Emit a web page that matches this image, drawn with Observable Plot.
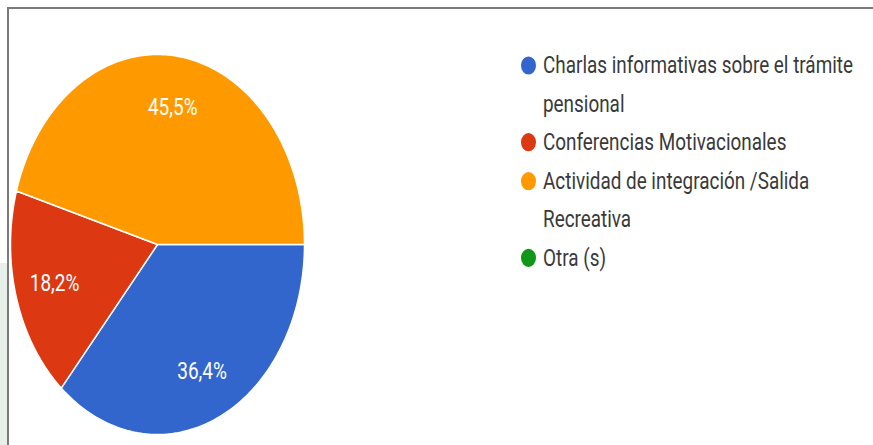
<!DOCTYPE html>
<html>
<head>
<meta charset="utf-8">
<script src="https://cdn.jsdelivr.net/npm/d3@7"></script>
<script src="https://cdn.jsdelivr.net/npm/@observablehq/plot@0.6"></script>
<style>
  html, body { margin: 0; padding: 0; background: #fff; }
  #wrap { position: relative; width: 873px; height: 445px; overflow: hidden; background: #fff; }
  #chart { position: absolute; left: 0; top: 0; }
  .line { position: absolute; background: #7a7a7a; z-index: 3; }
  .strip { position: absolute; background: #e8efe8; z-index: 2; }
  #legend {
    position: absolute; left: 521px; top: 46px; z-index: 4;
    transform: scaleY(1.3); transform-origin: 0 0;
    font-family: Roboto, "Liberation Sans", sans-serif; font-size: 18.9px;
    line-height: 29.6px; color: #3a3a3a;
  }
  .item { display: flex; align-items: flex-start; }
  .dot { flex: none; width: 15px; height: 14px; border-radius: 50%; margin-top: 7.8px; margin-right: 7px; }
  .txt { width: 325px; }
</style>
</head>
<body>
<div id="wrap">
  <div id="chart"></div>
  <div class="strip" style="left:0;top:263px;width:7px;height:182px;"></div>
  <div class="line" style="left:7px;top:7px;width:866px;height:2px;"></div>
  <div class="line" style="left:7px;top:7px;width:2px;height:438px;"></div>
  <div id="legend"></div>
</div>
<script>
// ---- data ----
const categories = [
  "Charlas informativas sobre el trámite pensional",
  "Conferencias Motivacionales",
  "Actividad de integración /Salida Recreativa",
  "Otra (s)"
];
const counts = [4, 2, 5, 0];
const colors = ["#3366cc", "#dc3912", "#ff9900", "#109618"];

// ---- build slices ----
const total = d3.sum(counts);
const rows = categories.map((c, i) => ({ cat: c, value: counts[i], color: colors[i] }));
const arcs = d3.pie().value(d => d.value).sort(null)
  .startAngle(Math.PI / 2).endAngle(Math.PI / 2 + 2 * Math.PI)(rows);

const polyPts = [];
const labels = [];
arcs.forEach(a => {
  if (a.data.value <= 0) return;
  const n = Math.max(2, Math.ceil((a.endAngle - a.startAngle) / (Math.PI / 180)));
  polyPts.push({ cat: a.data.cat, color: a.data.color, x: 0, y: 0 });
  for (let k = 0; k <= n; k++) {
    const t = a.startAngle + (a.endAngle - a.startAngle) * k / n;
    polyPts.push({ cat: a.data.cat, color: a.data.color, x: Math.sin(t), y: Math.cos(t) });
  }
  const mid = (a.startAngle + a.endAngle) / 2;
  labels.push({
    x: 0.73 * Math.sin(mid), y: 0.73 * Math.cos(mid),
    text: (a.data.value / total * 100).toFixed(1).replace(".", ",") + "%"
  });
});

const plot = Plot.plot({
  width: 873, height: 445,
  marginLeft: 10, marginRight: 569, marginTop: 54, marginBottom: 11,
  x: { domain: [-1, 1], axis: null },
  y: { domain: [-1, 1], axis: null },
  color: { type: "identity" },
  style: { background: "transparent" },
  marks: [
    Plot.line(polyPts, { x: "x", y: "y", z: "cat", fill: "color", stroke: "#fff", strokeWidth: 1.5, curve: "linear-closed" }),
    Plot.text(labels, { x: "x", y: "y", text: "text", fill: "#fff", fontSize: 19, fontFamily: "Roboto", textAnchor: "middle", lineAnchor: "middle" })
  ]
});
// vertical stretch of the labels to match the reference's aspect
d3.select(plot).selectAll("text").each(function () {
  const el = d3.select(this);
  const x = +el.attr("x") || 0, y = +el.attr("y") || 0;
  const prev = el.attr("transform") || "";
  el.attr("transform", `${prev} translate(${x},${y}) scale(1,1.3) translate(${-x},${-y})`);
});
document.getElementById("chart").appendChild(plot);

// ---- legend ----
const legend = d3.select("#legend");
rows.forEach(r => {
  const it = legend.append("div").attr("class", "item");
  it.append("div").attr("class", "dot").style("background", r.color);
  it.append("div").attr("class", "txt").text(r.cat);
});
</script>
</body>
</html>
